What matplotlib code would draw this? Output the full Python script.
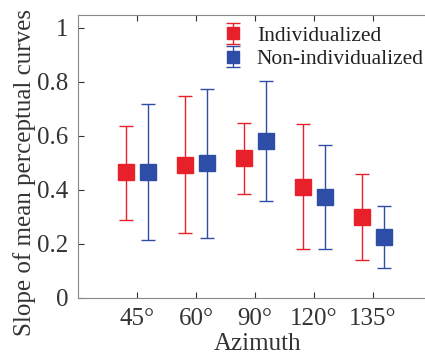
import matplotlib
matplotlib.use("Agg")
import matplotlib.pyplot as plt
import numpy as np

categories = ["45°", "60°", "90°", "120°", "135°"]
ind_mean = [0.467, 0.493, 0.517, 0.412, 0.300]
ind_low = [0.290, 0.240, 0.386, 0.183, 0.142]
ind_high = [0.638, 0.747, 0.648, 0.644, 0.460]
non_mean = [0.467, 0.499, 0.580, 0.374, 0.227]
non_low = [0.214, 0.222, 0.358, 0.183, 0.111]
non_high = [0.717, 0.775, 0.802, 0.566, 0.342]

plt.rcParams['font.family'] = ['Liberation Serif', 'DejaVu Serif']

fig = plt.figure(figsize=(4.25, 3.59), dpi=100)
ax = fig.add_axes([78/425, 61/359, 360/425, 283/359])

x = np.arange(1, len(categories) + 1)
red = '#E8202A'
blue = '#2E4DA7'
off = 0.19

def draw(xs, m, lo, hi, c, label):
    m = np.array(m); lo = np.array(lo); hi = np.array(hi)
    return ax.errorbar(xs, m, yerr=[m - lo, hi - m], fmt='s', color=c, ecolor=c,
                       elinewidth=1.0, capsize=5, capthick=1.0, markersize=11.5,
                       label=label)

draw(x - off, ind_mean, ind_low, ind_high, red, 'Individualized')
draw(x + off, non_mean, non_low, non_high, blue, 'Non-individualized')

ax.set_xlim(0, 6.1)
ax.set_ylim(0, 1.048)
ax.set_xticks(x)
ax.set_xticklabels(categories)
ax.set_yticks([0, 0.2, 0.4, 0.6, 0.8, 1])
ax.set_yticklabels(['0', '0.2', '0.4', '0.6', '0.8', '1'])
ax.tick_params(direction='in', top=True, right=False, labelsize=18, length=4,
               colors='#333333', pad=7)
for s in ax.spines.values():
    s.set_color('#888888')
ax.spines['right'].set_visible(False)
ax.set_xlabel('Azimuth', fontsize=18, color='#333333', labelpad=2)
fig.text(25/425, 1 - 173/359, 'Slope of mean perceptual curves', fontsize=18,
         color='#333333', rotation=90, ha='center', va='center')

ax.legend(loc='upper left', bbox_to_anchor=(216/425, 1 - 15/359), bbox_transform=fig.transFigure,
          frameon=False, fontsize=15.5, handletextpad=0.8, labelspacing=0.15,
          handlelength=0.6, borderpad=0, labelcolor='#222222', markerscale=0.75)

fig.savefig('out.png', dpi=100)
